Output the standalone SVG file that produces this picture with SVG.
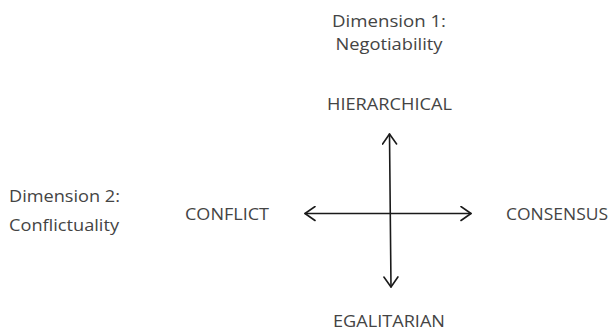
<svg xmlns="http://www.w3.org/2000/svg" width="611" height="332" viewBox="0 0 611 332">
<style>
text{font-family:"Open Sans","Liberation Sans",sans-serif;font-size:17px;fill:#444}
.c{text-anchor:middle}
.ax{stroke:#1a1a1a;stroke-width:1.6;fill:none;stroke-linecap:round;stroke-linejoin:round}
</style>
<defs>
<marker id="h" viewBox="0 0 12 16" refX="11" refY="8" markerWidth="12" markerHeight="16" markerUnits="userSpaceOnUse" orient="auto-start-reverse">
<path d="M1,1 L11,8 L1,15" fill="none" stroke="#1a1a1a" stroke-width="1.6" stroke-linecap="round" stroke-linejoin="round"/>
</marker>
</defs>
<rect width="611" height="332" fill="#fff"/>
<g id="connectors">
<line class="ax" x1="389.5" y1="134" x2="391" y2="287" marker-start="url(#h)" marker-end="url(#h)"/>
<line class="ax" x1="305" y1="213.5" x2="471" y2="213.5" marker-start="url(#h)" marker-end="url(#h)"/>
</g>
<g id="dim1">
<text class="c" x="389" y="27" textLength="114" lengthAdjust="spacingAndGlyphs">Dimension 1:</text>
<text class="c" x="389" y="50" textLength="107" lengthAdjust="spacingAndGlyphs">Negotiability</text>
</g>
<g id="hierarchical"><text class="c" x="389.5" y="110" textLength="125" lengthAdjust="spacingAndGlyphs">HIERARCHICAL</text></g>
<g id="dim2">
<text x="9" y="202" textLength="111" lengthAdjust="spacingAndGlyphs">Dimension 2:</text>
<text x="9" y="231" textLength="110" lengthAdjust="spacingAndGlyphs">Conflictuality</text>
</g>
<g id="conflict"><text x="185" y="220" textLength="84" lengthAdjust="spacingAndGlyphs">CONFLICT</text></g>
<g id="consensus"><text x="506" y="220" textLength="102" lengthAdjust="spacingAndGlyphs">CONSENSUS</text></g>
<g id="egalitarian"><text x="333" y="327" textLength="112" lengthAdjust="spacingAndGlyphs">EGALITARIAN</text></g>
</svg>
